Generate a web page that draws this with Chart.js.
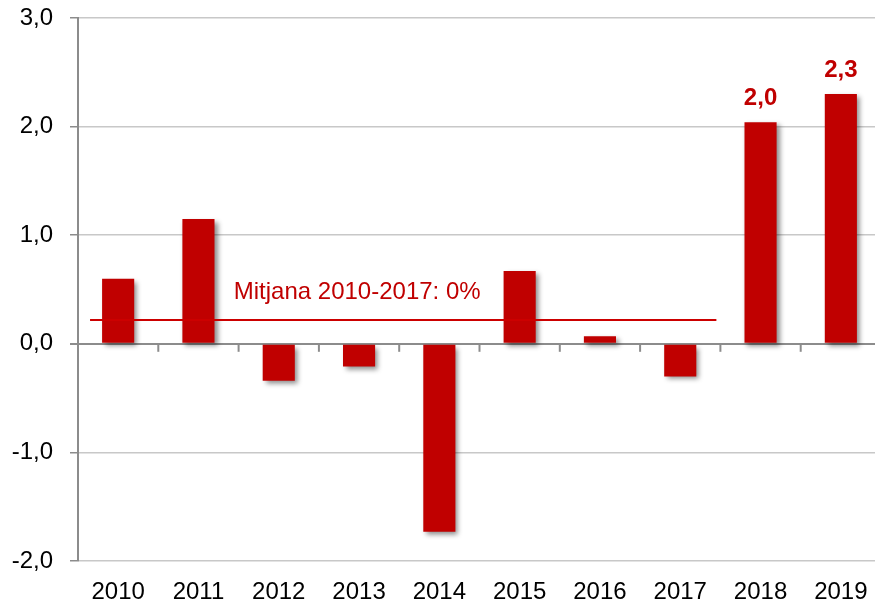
<!DOCTYPE html>
<html>
<head>
<meta charset="utf-8">
<script src="https://cdn.jsdelivr.net/npm/chart.js@4/dist/chart.umd.min.js"></script>
<style>
  body { margin: 0; background: #fff; overflow: hidden; }
  #wrap { width: 881px; height: 606px; }
</style>
</head>
<body>
<div id="wrap"><canvas id="growth" width="881" height="606"></canvas></div>
<script>
const years = ['2010', '2011', '2012', '2013', '2014', '2015', '2016', '2017', '2018', '2019'];
const growth = [0.6, 1.15, -0.34, -0.21, -1.73, 0.67, 0.07, -0.3, 2.04, 2.3];
const labelledYears = ['2018', '2019'];
const meanLine = [{ x: -0.35, y: 0.22 }, { x: 7.45, y: 0.22 }];
const meanLabel = 'Mitjana 2010-2017: 0%';
const meanLabelAt = { x: 1.44, y: 0.41 };

const red = '#c00000';
const fmt = v => v.toFixed(1).replace('.', ',');

const extras = {
  id: 'extras',
  beforeDatasetDraw(chart, args) {
    if (args.index !== 0) return;
    const ctx = chart.ctx;
    ctx.save();
    ctx.shadowColor = 'rgba(0,0,0,0.45)';
    ctx.shadowBlur = 5;
    ctx.shadowOffsetX = 3;
    ctx.shadowOffsetY = 3;
  },
  afterDatasetDraw(chart, args) {
    if (args.index === 0) chart.ctx.restore();
  },
  afterDatasetsDraw(chart) {
    const ctx = chart.ctx;
    const x = chart.scales.x;
    const xl = chart.scales.xl;
    const y = chart.scales.y;
    const y0 = y.getPixelForValue(0);

    // tick marks on the zero line between categories
    ctx.save();
    ctx.strokeStyle = '#8c8c8c';
    ctx.lineWidth = 2;
    for (let i = 1; i < years.length; i++) {
      const px = (x.getPixelForValue(i - 1) + x.getPixelForValue(i)) / 2;
      ctx.beginPath();
      ctx.moveTo(px, y0);
      ctx.lineTo(px, y0 + 8);
      ctx.stroke();
    }

    // value labels
    const bars = chart.getDatasetMeta(0).data;
    ctx.fillStyle = red;
    ctx.font = 'bold 24px "Liberation Sans", Arial, sans-serif';
    ctx.textAlign = 'center';
    ctx.textBaseline = 'alphabetic';
    labelledYears.forEach(yr => {
      const i = years.indexOf(yr);
      ctx.fillText(fmt(growth[i]), bars[i].x, bars[i].y - 17);
    });

    // mean annotation
    ctx.font = '24px "Liberation Sans", Arial, sans-serif';
    ctx.textAlign = 'left';
    ctx.fillText(meanLabel, xl.getPixelForValue(meanLabelAt.x), y.getPixelForValue(meanLabelAt.y));
    ctx.restore();
  }
};

new Chart(document.getElementById('growth'), {
  data: {
    labels: years,
    datasets: [
      {
        type: 'bar',
        data: growth,
        backgroundColor: red,
        grouped: false,
        barPercentage: 0.8,
        categoryPercentage: 0.5,
        xAxisID: 'x',
        order: 2,
      },
      {
        type: 'line',
        data: meanLine,
        borderColor: '#cc0000',
        borderWidth: 2,
        pointRadius: 0,
        xAxisID: 'xl',
        order: 1,
      },
    ],
  },
  plugins: [extras],
  options: {
    responsive: false,
    animation: false,
    layout: { padding: { top: 18, right: 0, left: 0, bottom: 0 } },
    plugins: {
      legend: { display: false },
      tooltip: { enabled: false },
    },
    scales: {
      x: {
        type: 'category',
        offset: true,
        grid: { display: false },
        border: { display: false },
        ticks: {
          color: '#000',
          padding: 9,
          font: { family: '"Liberation Sans", Arial, sans-serif', size: 24 },
          maxRotation: 0,
        },
        afterFit: s => { s.height = 45; },
      },
      xl: {
        type: 'linear',
        display: false,
        min: -0.5,
        max: 9.5,
      },
      y: {
        min: -2,
        max: 3,
        ticks: {
          stepSize: 1,
          color: '#000',
          padding: 17,
          font: { family: '"Liberation Sans", Arial, sans-serif', size: 24 },
          callback: v => fmt(v),
        },
        grid: {
          color: c => (c.tick && c.tick.value === 0 ? '#8c8c8c' : '#c8c8c8'),
          lineWidth: c => (c.tick && c.tick.value === 0 ? 2 : 1.5),
          tickColor: '#8c8c8c',
          tickLength: 8,
        },
        border: { color: '#8c8c8c', width: 2 },
        afterFit: s => {
          s.width = 78;
          s.paddingTop = 0;
          s.paddingBottom = 0;
        },
      },
    },
  },
});
</script>
</body>
</html>
